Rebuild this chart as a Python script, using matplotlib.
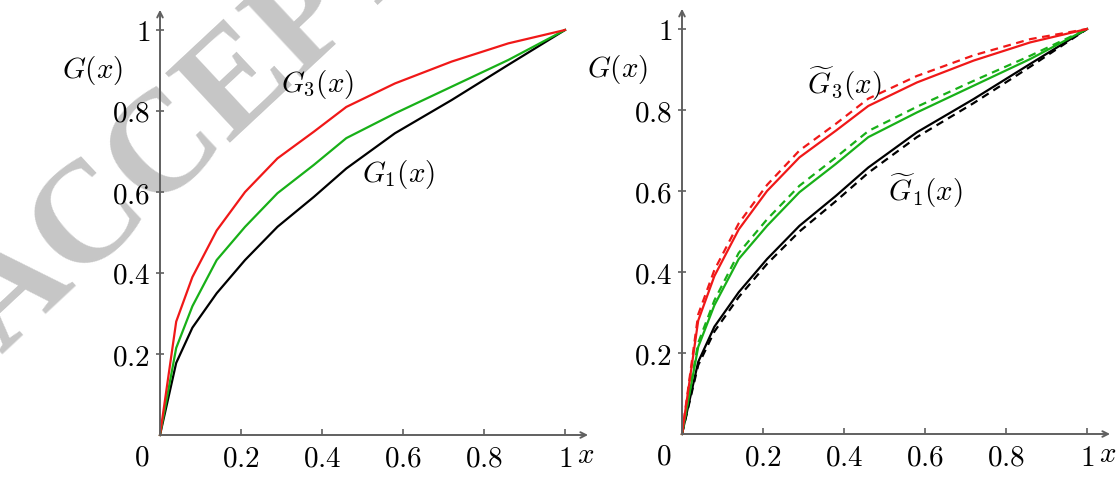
import matplotlib
matplotlib.use("Agg")
import matplotlib.pyplot as plt
import numpy as np
from matplotlib.textpath import TextPath
from matplotlib.font_manager import FontProperties

plt.rcParams['mathtext.fontset'] = 'cm'
plt.rcParams['font.family'] = ['DejaVu Serif']

# ---- data ----
x = [0, 0.04, 0.08, 0.14, 0.21, 0.29, 0.38, 0.46, 0.58, 0.72, 0.86, 1.0]
g3 = [0, 0.28, 0.39, 0.505, 0.60, 0.683, 0.749, 0.81, 0.868, 0.922, 0.967, 1.0]
g2 = [0, 0.215, 0.318, 0.432, 0.514, 0.597, 0.667, 0.733, 0.794, 0.86, 0.926, 1.0]
g1 = [0, 0.178, 0.265, 0.35, 0.432, 0.514, 0.588, 0.658, 0.745, 0.827, 0.914, 1.0]

g3_tilde = [0, 0.295, 0.405, 0.52, 0.615, 0.70, 0.766, 0.828, 0.884, 0.935, 0.975, 1.0]
g2_tilde = [0, 0.225, 0.33, 0.447, 0.53, 0.613, 0.683, 0.748, 0.808, 0.872, 0.934, 1.0]
g1_tilde = [0, 0.17, 0.253, 0.338, 0.42, 0.50, 0.575, 0.645, 0.733, 0.817, 0.907, 1.0]

ticks = [0.2, 0.4, 0.6, 0.8, 1.0]
tick_labels = ['0.2', '0.4', '0.6', '0.8', '1']

RED = '#f01818'
GREEN = '#18b018'
BLACK = '#000000'
AXC = '#606060'
FS = 21

W, H = 1118, 486
fig = plt.figure(figsize=(W / 100, H / 100), dpi=100)

# watermark placement: put centre of 2nd "C" at a chosen pixel
WM = 'ACCEPTED MANUSCRIPT'
WS, ANG = 103, 43
fp = FontProperties(family='Liberation Serif', weight='bold', size=WS)
k2pt = 100 / 72


def right_edge(s):
    return TextPath((0, 0), s, prop=fp).get_extents().x1 * k2pt


def letter_center(k):
    a = right_edge(WM[:k]) if k > 0 else 0
    return (a + right_edge(WM[:k + 1])) / 2


ce = TextPath((0, 0), 'C', prop=fp).get_extents()
perp = (ce.y0 + ce.y1) / 2 * k2pt
u = np.array([np.cos(np.radians(ANG)), -np.sin(np.radians(ANG))])
n = np.array([-np.sin(np.radians(ANG)), -np.cos(np.radians(ANG))])
target = np.array([151.0, 152.0])
start = target - letter_center(2) * u - perp * n
fig.text(start[0] / W, 1 - start[1] / H, WM, fontsize=WS,
         family='Liberation Serif', weight='bold', color='#c6c6c6', rotation=ANG,
         rotation_mode='anchor', ha='left', va='baseline', zorder=0)


def make_axes(left_px, bottom_px):
    ax = fig.add_axes([left_px / W, 1 - bottom_px / H, 405 / W, 405 / H])
    ax.set_zorder(2)
    ax.patch.set_alpha(0)
    ax.set_xlim(0, 1)
    ax.set_ylim(0, 1)
    for s in ax.spines.values():
        s.set_visible(False)
    ax.set_xticks(ticks)
    ax.set_xticklabels(['$%s$' % t for t in tick_labels], fontsize=FS)
    ax.set_yticks(ticks)
    ax.set_yticklabels(['$%s$' % t for t in tick_labels], fontsize=FS)
    ax.tick_params(axis='x', direction='in', length=4, width=1.2, color=AXC, pad=7)
    ax.tick_params(axis='y', direction='inout', length=6, width=1.2, color=AXC, pad=4)
    ax.annotate('', xy=(1.057, 0), xytext=(0, 0), xycoords='data',
                arrowprops=dict(arrowstyle='->', color=AXC, lw=1.4,
                                shrinkA=0, shrinkB=0),
                annotation_clip=False)
    ax.annotate('', xy=(0, 1.05), xytext=(0, 0), xycoords='data',
                arrowprops=dict(arrowstyle='->', color=AXC, lw=1.4,
                                shrinkA=0, shrinkB=0),
                annotation_clip=False)
    ax.text(-0.045, -0.055, '$0$', fontsize=FS, ha='center', va='center')
    ax.text(1.05, -0.05, '$x$', fontsize=FS, ha='center', va='center')
    return ax


ax1 = make_axes(160, 435)
ax1.plot(x, g1, color=BLACK, lw=1.6, clip_on=False)
ax1.plot(x, g2, color=GREEN, lw=1.6, clip_on=False)
ax1.plot(x, g3, color=RED, lw=1.6, clip_on=False)
ax1.text(-0.243, 0.881, '$G(x)$', fontsize=FS, ha='left', va='baseline')
ax1.text(0.30, 0.847, '$G_3(x)$', fontsize=FS, ha='left', va='baseline')
ax1.text(0.50, 0.625, '$G_1(x)$', fontsize=FS, ha='left', va='baseline')

ax2 = make_axes(682, 434)
ax2.plot(x, g1, color=BLACK, lw=1.6, clip_on=False)
ax2.plot(x, g1_tilde, color=BLACK, lw=1.6, ls=(0, (3.5, 2.5)), clip_on=False)
ax2.plot(x, g2, color=GREEN, lw=1.6, clip_on=False)
ax2.plot(x, g2_tilde, color=GREEN, lw=1.6, ls=(0, (3.5, 2.5)), clip_on=False)
ax2.plot(x, g3, color=RED, lw=1.6, clip_on=False)
ax2.plot(x, g3_tilde, color=RED, lw=1.6, ls=(0, (3.5, 2.5)), clip_on=False)
ax2.text(-0.235, 0.881, '$G(x)$', fontsize=FS, ha='left', va='baseline')
ax2.text(0.308, 0.839, r'$\widetilde{G}_3(x)$', fontsize=FS, ha='left', va='baseline')
ax2.text(0.509, 0.575, r'$\widetilde{G}_1(x)$', fontsize=FS, ha='left', va='baseline')

fig.savefig('out.png', dpi=100)
